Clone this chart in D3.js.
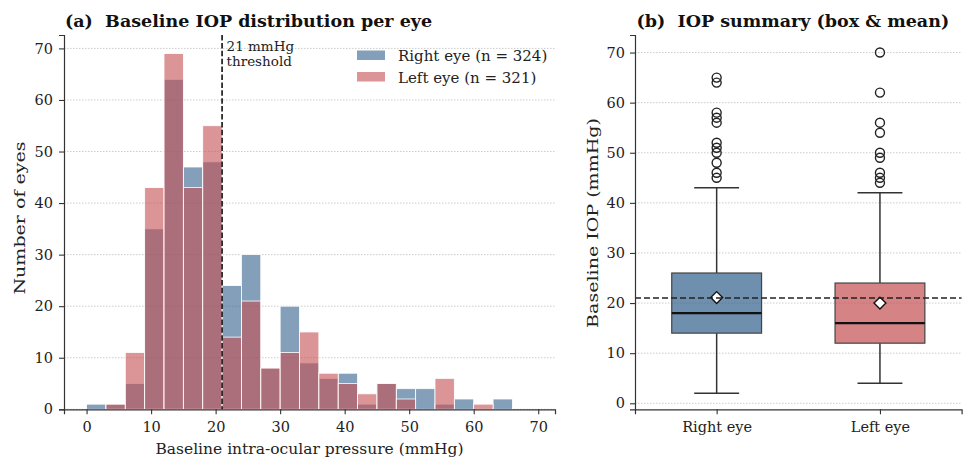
<!DOCTYPE html>
<html>
<head>
<meta charset="utf-8">
<script src="https://cdn.jsdelivr.net/npm/d3@7"></script>
<style>
  body { margin: 0; background: #fff; }
  svg { display: block; font-family: "DejaVu Serif", serif; }
</style>
</head>
<body>
<svg id="chart" width="963" height="459"></svg>
<script>
// histogram bins (mmHg), 3 mmHg wide
const binEdges = [0, 3, 6, 9, 12, 15, 18, 21, 24, 27, 30, 33, 36, 39, 42, 45, 48, 51, 54, 57, 60, 63, 66];
const rightCounts = [1, 1, 5, 35, 64, 47, 48, 24, 30, 8, 20, 9, 6, 7, 1, 5, 4, 4, 1, 2, 0, 2];
const leftCounts = [0, 1, 11, 43, 69, 43, 55, 14, 21, 8, 11, 15, 7, 5, 3, 5, 2, 0, 6, 0, 1, 0];
const threshold = 21;

// box plot summary
const eyes = ['Right eye', 'Left eye'];
const q1 = [14, 12];
const medians = [18, 16];
const q3 = [26, 24];
const whiskerLow = [2, 4];
const whiskerHigh = [43, 42];
const means = [21.1, 20.0];
const rightOutliers = [65, 64, 58, 57, 56, 52, 51, 50, 48, 46, 45];
const leftOutliers = [70, 62, 56, 54, 50, 49, 46, 45, 44];

const blue = '#325f8c';
const red = '#c44e52';
const svg = d3.select('#chart');

function styleAxis(g) {
  g.select('.domain').attr('stroke', '#333').attr('stroke-width', 1.2);
  g.selectAll('.tick line').attr('stroke', '#333').attr('stroke-width', 1.1);
  g.selectAll('.tick text').attr('font-size', 14.5).attr('fill', '#222').attr('font-family', 'DejaVu Serif');
}

// ---------- (a) histogram ----------
const hx = d3.scaleLinear().domain([-3.5, 72.6]).range([64, 555]);
const hy = d3.scaleLinear().domain([0, 72.6]).range([409.3, 35]);

svg.append('g')
  .selectAll('line')
  .data(hy.ticks(7))
  .join('line')
  .attr('x1', 64)
  .attr('x2', 555)
  .attr('y1', (d) => hy(d))
  .attr('y2', (d) => hy(d))
  .attr('stroke', '#cccccc')
  .attr('stroke-width', 1)
  .attr('stroke-dasharray', '1.5,1.5');

const bins = binEdges.slice(0, -1).map((e, i) => ({ x0: e, x1: binEdges[i + 1], r: rightCounts[i], l: leftCounts[i] }));

svg.append('g')
  .selectAll('rect')
  .data(bins.filter((d) => d.r > 0))
  .join('rect')
  .attr('x', (d) => hx(d.x0))
  .attr('width', (d) => hx(d.x1) - hx(d.x0))
  .attr('y', (d) => hy(d.r))
  .attr('height', (d) => hy(0) - hy(d.r))
  .attr('fill', blue)
  .attr('fill-opacity', 0.6)
  .attr('stroke', '#fff')
  .attr('stroke-width', 0.8);

svg.append('g')
  .selectAll('rect')
  .data(bins.filter((d) => d.l > 0))
  .join('rect')
  .attr('x', (d) => hx(d.x0))
  .attr('width', (d) => hx(d.x1) - hx(d.x0))
  .attr('y', (d) => hy(d.l))
  .attr('height', (d) => hy(0) - hy(d.l))
  .attr('fill', red)
  .attr('fill-opacity', 0.6)
  .attr('stroke', '#fff')
  .attr('stroke-width', 0.8);

svg.append('line')
  .attr('x1', hx(threshold))
  .attr('x2', hx(threshold))
  .attr('y1', hy(72.6))
  .attr('y2', hy(0))
  .attr('stroke', '#111')
  .attr('stroke-width', 1.6)
  .attr('stroke-dasharray', '5.5,2.4');

// two separate lines so they don't collide
['21 mmHg', 'threshold'].forEach((t, i) => {
  svg.append('text')
    .attr('x', hx(threshold) + 4.5)
    .attr('y', 51 + i * 14.5)
    .attr('font-size', 13.5)
    .attr('fill', '#222')
    .text(t);
});

svg.append('g')
  .attr('transform', 'translate(0,409.3)')
  .call(d3.axisBottom(hx).tickValues(d3.range(0, 71, 10)).tickSize(5).tickPadding(7))
  .call(styleAxis);
svg.append('g')
  .attr('transform', 'translate(64,0)')
  .call(d3.axisLeft(hy).ticks(7).tickSize(5).tickPadding(6))
  .call(styleAxis);

// legend
const legend = [
  { label: 'Right eye (n = 324)', color: blue },
  { label: 'Left eye (n = 321)', color: red },
];
const lg = svg.append('g')
  .selectAll('g')
  .data(legend)
  .join('g')
  .attr('transform', (d, i) => `translate(357,${50.5 + i * 21.5})`);
lg.append('rect')
  .attr('width', 28)
  .attr('height', 9.5)
  .attr('fill', (d) => d.color)
  .attr('fill-opacity', 0.6);
lg.append('text')
  .attr('x', 41)
  .attr('y', 10.5)
  .attr('font-size', 15)
  .attr('fill', '#222')
  .text((d) => d.label);

svg.append('text')
  .attr('x', 65)
  .attr('y', 27)
  .attr('font-size', 17.5)
  .attr('font-weight', 'bold')
  .attr('fill', '#111')
  .style('white-space', 'pre')
  .text('(a)  Baseline IOP distribution per eye');
svg.append('text')
  .attr('transform', 'translate(25,218) rotate(-90) scale(1.27,1)')
  .attr('text-anchor', 'middle')
  .attr('font-size', 15)
  .attr('fill', '#222')
  .text('Number of eyes');
svg.append('text')
  .attr('x', (64 + 555) / 2)
  .attr('y', 454)
  .attr('text-anchor', 'middle')
  .attr('font-size', 15.5)
  .attr('fill', '#222')
  .text('Baseline intra-ocular pressure (mmHg)');

// ---------- (b) box plot ----------
const bx = d3.scaleLinear().domain([0.5, 2.5]).range([635, 961.6]);
const by = d3.scaleLinear().domain([-1.2, 73.5]).range([409.3, 35]);
const boxW = 0.55;

svg.append('g')
  .selectAll('line')
  .data(by.ticks(7))
  .join('line')
  .attr('x1', 635)
  .attr('x2', 961.6)
  .attr('y1', (d) => by(d))
  .attr('y2', (d) => by(d))
  .attr('stroke', '#cccccc')
  .attr('stroke-width', 1)
  .attr('stroke-dasharray', '1.5,1.5');

const boxes = eyes.map((name, i) => ({
  name,
  pos: i + 1,
  q1: q1[i],
  med: medians[i],
  q3: q3[i],
  lo: whiskerLow[i],
  hi: whiskerHigh[i],
  mean: means[i],
  out: i === 0 ? rightOutliers : leftOutliers,
  color: i === 0 ? blue : red,
}));

const bg = svg.append('g').selectAll('g').data(boxes).join('g');
// whiskers
bg.append('line')
  .attr('x1', (d) => bx(d.pos)).attr('x2', (d) => bx(d.pos))
  .attr('y1', (d) => by(d.q3)).attr('y2', (d) => by(d.hi))
  .attr('stroke', '#333').attr('stroke-width', 1.5);
bg.append('line')
  .attr('x1', (d) => bx(d.pos)).attr('x2', (d) => bx(d.pos))
  .attr('y1', (d) => by(d.q1)).attr('y2', (d) => by(d.lo))
  .attr('stroke', '#333').attr('stroke-width', 1.5);
// caps
bg.selectAll('.cap')
  .data((d) => [d.lo, d.hi].map((v) => ({ v, pos: d.pos })))
  .join('line')
  .attr('class', 'cap')
  .attr('x1', (d) => bx(d.pos - boxW / 4)).attr('x2', (d) => bx(d.pos + boxW / 4))
  .attr('y1', (d) => by(d.v)).attr('y2', (d) => by(d.v))
  .attr('stroke', '#333').attr('stroke-width', 1.5);
// box
bg.append('rect')
  .attr('x', (d) => bx(d.pos - boxW / 2))
  .attr('width', (d) => bx(d.pos + boxW / 2) - bx(d.pos - boxW / 2))
  .attr('y', (d) => by(d.q3))
  .attr('height', (d) => by(d.q1) - by(d.q3))
  .attr('fill', (d) => d.color)
  .attr('fill-opacity', 0.7)
  .attr('stroke', '#444')
  .attr('stroke-width', 1.2);
// median
bg.append('line')
  .attr('x1', (d) => bx(d.pos - boxW / 2)).attr('x2', (d) => bx(d.pos + boxW / 2))
  .attr('y1', (d) => by(d.med)).attr('y2', (d) => by(d.med))
  .attr('stroke', '#111').attr('stroke-width', 2.2);
// outliers
bg.selectAll('circle')
  .data((d) => d.out.map((v) => ({ v, pos: d.pos })))
  .join('circle')
  .attr('cx', (d) => bx(d.pos))
  .attr('cy', (d) => by(d.v))
  .attr('r', 4.5)
  .attr('fill', 'none')
  .attr('stroke', '#222')
  .attr('stroke-width', 1.4);

// threshold
svg.append('line')
  .attr('x1', 635).attr('x2', 961.6)
  .attr('y1', by(threshold)).attr('y2', by(threshold))
  .attr('stroke', '#222')
  .attr('stroke-width', 1.5)
  .attr('stroke-dasharray', '6,3');

// mean diamonds
bg.append('path')
  .attr('d', d3.symbol(d3.symbolDiamond2, 90))
  .attr('transform', (d) => `translate(${bx(d.pos)},${by(d.mean)})`)
  .attr('fill', '#fff')
  .attr('stroke', '#111')
  .attr('stroke-width', 1.4);

svg.append('g')
  .attr('transform', 'translate(0,409.3)')
  .call(d3.axisBottom(bx).tickValues([1, 2]).tickFormat((d) => eyes[d - 1]).tickSize(5).tickPadding(7))
  .call(styleAxis);
svg.append('g')
  .attr('transform', 'translate(635,0)')
  .call(d3.axisLeft(by).ticks(7).tickSize(5).tickPadding(5))
  .call(styleAxis);

svg.append('text')
  .attr('x', 636.5)
  .attr('y', 27)
  .attr('font-size', 17.5)
  .attr('font-weight', 'bold')
  .attr('fill', '#111')
  .style('white-space', 'pre')
  .text('(b)  IOP summary (box & mean)');
svg.append('text')
  .attr('transform', 'translate(598,223) rotate(-90) scale(1.27,1)')
  .attr('text-anchor', 'middle')
  .attr('font-size', 15)
  .attr('fill', '#222')
  .text('Baseline IOP (mmHg)');
</script>
</body>
</html>
